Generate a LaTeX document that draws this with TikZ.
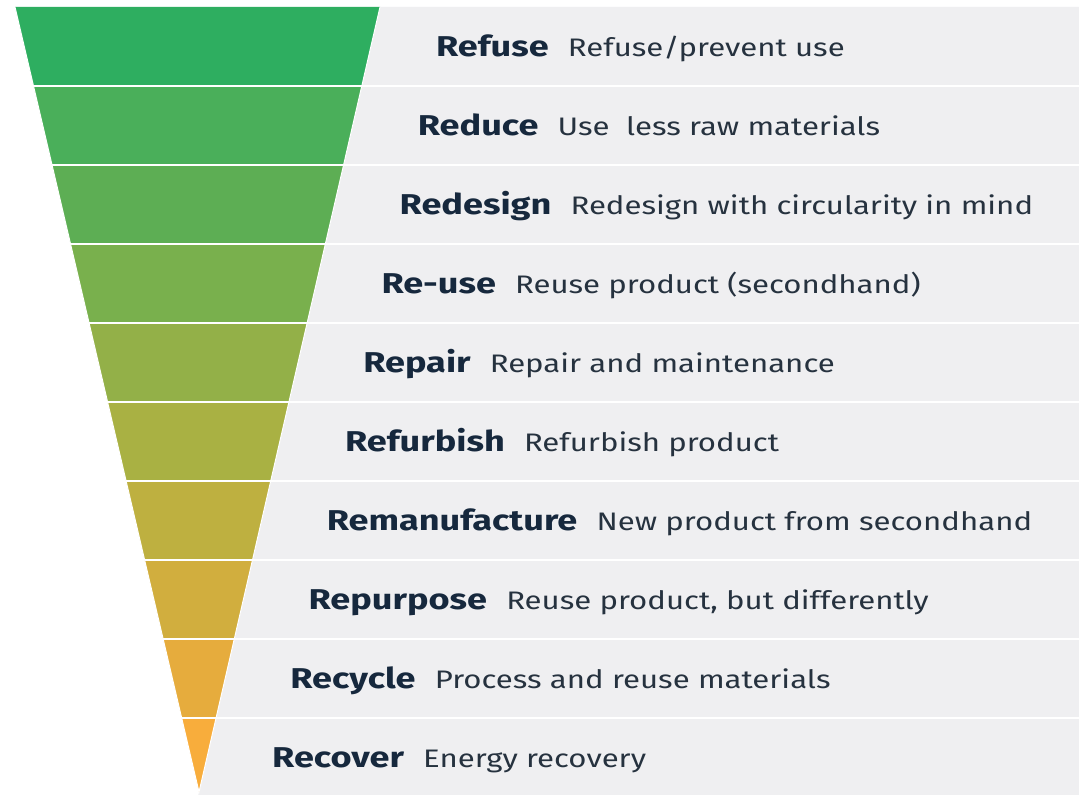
\documentclass[tikz,border=0pt]{standalone}
\usepackage{fontspec}
\usepackage{graphicx}
\setmainfont{Fira Sans}
\definecolor{bandgray}{HTML}{EFEFF1}
\definecolor{labelc}{HTML}{16283D}
\definecolor{descc}{HTML}{26323F}
\definecolor{c0}{HTML}{2EAE60}
\definecolor{c1}{HTML}{4AAF5A}
\definecolor{c2}{HTML}{5DAE54}
\definecolor{c3}{HTML}{79B04D}
\definecolor{c4}{HTML}{93B048}
\definecolor{c5}{HTML}{A9B143}
\definecolor{c6}{HTML}{BEB040}
\definecolor{c7}{HTML}{D1AE3E}
\definecolor{c8}{HTML}{E6AC3D}
\definecolor{c9}{HTML}{F8AD3C}
\newcommand{\lblwide}[1]{\scalebox{1.26}[1]{#1}}
\newcommand{\dscwide}[1]{\scalebox{1.23}[1]{#1}}
\tikzset{
  lbl/.style={anchor=base west, inner sep=0pt, text=labelc, font=\fontsize{21.5pt}{25pt}\selectfont\bfseries},
  dsc/.style={anchor=base west, inner sep=0pt, text=descc, font=\fontsize{19pt}{23pt}\selectfont},
  sep/.style={white, line width=1.5pt},
}
\begin{document}
\begin{tikzpicture}[x=0.75pt,y=-0.75pt]
\useasboundingbox (0,0) rectangle (1079,795);
\fill[white] (0,0) rectangle (1079,795);
\fill[bandgray] (380,7) -- (1079,7) -- (1079,795) -- (198.3,795) -- cycle;
\foreach \i in {0,...,9}{
  \pgfmathsetmacro{\yt}{7+79*\i}
  \pgfmathsetmacro{\yb}{min(7+79*(\i+1),792)}
  \pgfmathsetmacro{\xlt}{15+(\yt-7)/785*184}
  \pgfmathsetmacro{\xrt}{380-(\yt-7)/785*181}
  \pgfmathsetmacro{\xlb}{15+(\yb-7)/785*184}
  \pgfmathsetmacro{\xrb}{380-(\yb-7)/785*181}
  \fill[c\i] (\xlt,\yt) -- (\xrt,\yt) -- (\xrb,\yb) -- (\xlb,\yb) -- cycle;
}
\draw[white, line width=0.75pt] (15,7) -- (199,792) -- (380,7);
\foreach \i in {1,...,9}{
  \pgfmathsetmacro{\ys}{7+79*\i}
  \pgfmathsetmacro{\xs}{15+(\ys-7)/785*184}
  \draw[sep] (\xs,\ys) -- (1079,\ys);
}
\foreach \i/\lab/\des in {0/Refuse/{Refuse/prevent use},
  1/Reduce/{Use~~less raw materials},
  2/Redesign/{Redesign with circularity in mind},
  3/Re-use/{Reuse product (secondhand)},
  4/Repair/{Repair and maintenance},
  5/Refurbish/{Refurbish product},
  6/Remanufacture/{New product from secondhand},
  7/Repurpose/{Reuse product, but differently},
  8/Recycle/{Process and reuse materials},
  9/Recover/{Energy recovery}}{
  \pgfmathsetmacro{\yc}{7+79*\i+39.5}
  \pgfmathsetmacro{\xe}{380-(\yc-7)/785*181+65}
  \pgfmathsetmacro{\yB}{\yc+10}
  \node[lbl] (l\i) at (\xe,\yB) {\lblwide{\lab}};
  \node[dsc] (d\i) at ([xshift=14pt]l\i.base east) {\dscwide{\des}};
}
\end{tikzpicture}
\end{document}
